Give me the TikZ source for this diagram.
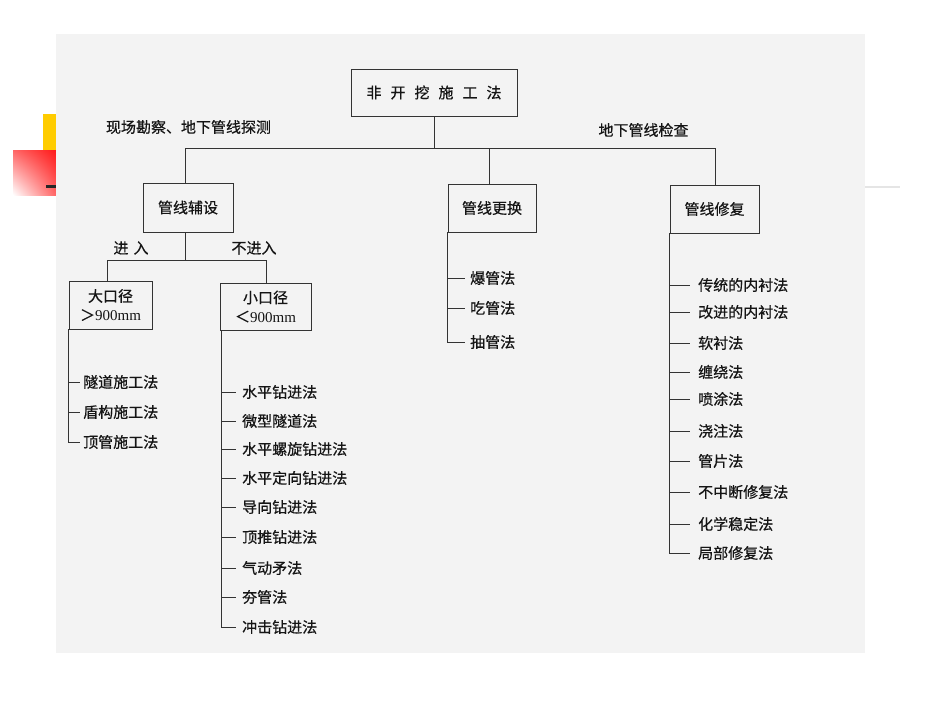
\documentclass[tikz,border=0pt]{standalone}
\usepackage{fontspec}
\newfontfamily\cjk{Noto Sans CJK SC}[FakeBold=0.6]
\setmainfont{Liberation Serif}
\usetikzlibrary{calc,shadings}
\definecolor{scanbg}{HTML}{F3F3F3}
\definecolor{ink}{HTML}{151515}
\definecolor{lineink}{HTML}{333333}
\definecolor{tplyellow}{HTML}{FFCC00}
\begin{document}
\begin{tikzpicture}[x=1pt,y=-1pt,
  every node/.style={font=\cjk\fontsize{15}{19}\selectfont, text=ink},
  box/.style={draw=lineink, line width=0.9pt, rectangle, inner sep=0pt, align=center},
  item/.style={anchor=west, inner sep=0pt, text height=13.2pt, text depth=1.8pt},
  conn/.style={draw=lineink, line width=0.9pt}]
\useasboundingbox (0,0) rectangle (950,713);
\fill[white] (0,0) rectangle (950,713);
% slide template decorations
\fill[tplyellow] (43,114) rectangle (56,150);
\shade[upper left=red!60!white, upper right=red!90!white, lower left=white, lower right=red!60!white] (13,150) rectangle (56,195);
\fill[black!85] (46,185) rectangle (56,188);
\fill[black!10] (865,186) rectangle (900,188);
% scanned page
\fill[scanbg] (56,34) rectangle (865,653);

% main boxes
\node[box, minimum width=166pt, minimum height=47pt] (top) at (434,92.5)
  {非\hspace{9pt}开\hspace{9pt}挖\hspace{9pt}施\hspace{9pt}工\hspace{9pt}法};
\node[box, minimum width=90pt, minimum height=49pt] (lay) at (188,207.5) {管线辅设};
\node[box, minimum width=88pt, minimum height=48pt] (rep) at (492,208) {管线更换};
\node[box, minimum width=89pt, minimum height=48pt] (fix) at (714.5,209) {管线修复};
\node[box, minimum width=83pt, minimum height=48pt] (big) at (110.5,305)
  {大口径\\{\cjk ＞}{\rmfamily\fontsize{15}{19}\selectfont 900mm}};
\node[box, minimum width=91pt, minimum height=47pt] (small) at (265.5,306.5)
  {小口径\\{\cjk ＜}{\rmfamily\fontsize{15}{19}\selectfont 900mm}};

% labels
\node (survey) at (188.5,127) {现场勘察、地下管线探测};
\node (inspect) at (643.5,130) {地下管线检查};
\node (enter) at (131,248) {进\hspace{5pt}入};
\node (noenter) at (254,248) {不进入};

% top-level connectors
\coordinate (busL) at (185,148);
\coordinate (busR) at (715,148);
\draw[conn] (top.south) -- (top.south |- busL);
\draw[conn] (busL) -- (busR);
\draw[conn] (busL) -- (lay.north -| busL);
\draw[conn] (rep.north -| 489,0) -- (489,148);
\draw[conn] (busR) -- (fix.north -| busR);

% laying subtree
\coordinate (sub) at (185,260);
\coordinate (subL) at (107,260);
\coordinate (subR) at (266,260);
\draw[conn] (lay.south -| sub) -- (sub);
\draw[conn] (subL) -- (subR);
\draw[conn] (subL) -- (big.north -| subL);
\draw[conn] (subR) -- (small.north -| subR);

% large-diameter items
\node[item] (b1) at (83,382) {隧道施工法};
\node[item] (b2) at (83,412) {盾构施工法};
\node[item] (b3) at (83,442) {顶管施工法};
\draw[conn] (big.south west) |- ($(b3.west)+(-3,0)$);
\foreach \n in {b1,b2}
  \draw[conn, shorten >=3pt] (\n.west -| big.south west) -- (\n.west);

% small-diameter items
\node[item] (s1) at (242,392) {水平钻进法};
\node[item] (s2) at (242,421) {微型隧道法};
\node[item] (s3) at (242,449) {水平螺旋钻进法};
\node[item] (s4) at (242,478) {水平定向钻进法};
\node[item] (s5) at (242,507) {导向钻进法};
\node[item] (s6) at (242,537) {顶推钻进法};
\node[item] (s7) at (242,568) {气动矛法};
\node[item] (s8) at (242,597) {夯管法};
\node[item] (s9) at (242,627) {冲击钻进法};
\coordinate (sv) at (221,0);
\draw[conn] (small.south -| sv) |- ($(s9.west)+(-6,0)$);
\foreach \n in {s1,s2,s3,s4,s5,s6,s7,s8}
  \draw[conn, shorten >=6pt] (\n.west -| sv) -- (\n.west);

% replacement items
\node[item] (r1) at (470,278) {爆管法};
\node[item] (r2) at (470,308) {吃管法};
\node[item] (r3) at (470,342) {抽管法};
\draw[conn] (rep.south west) |- ($(r3.west)+(-5,0)$);
\foreach \n in {r1,r2}
  \draw[conn, shorten >=5pt] (\n.west -| rep.south west) -- (\n.west);

% repair items
\node[item] (f1) at (698,285) {传统的内衬法};
\node[item] (f2) at (698,312) {改进的内衬法};
\node[item] (f3) at (698,343) {软衬法};
\node[item] (f4) at (698,372) {缠绕法};
\node[item] (f5) at (698,399) {喷涂法};
\node[item] (f6) at (698,431) {浇注法};
\node[item] (f7) at (698,461) {管片法};
\node[item] (f8) at (698,492) {不中断修复法};
\node[item] (f9) at (698,524) {化学稳定法};
\node[item] (f10) at (698,553) {局部修复法};
\draw[conn] (fix.south west) |- ($(f10.west)+(-8,0)$);
\foreach \n in {f1,f2,f3,f4,f5,f6,f7,f8,f9}
  \draw[conn, shorten >=8pt] (\n.west -| fix.south west) -- (\n.west);
\end{tikzpicture}
\end{document}
